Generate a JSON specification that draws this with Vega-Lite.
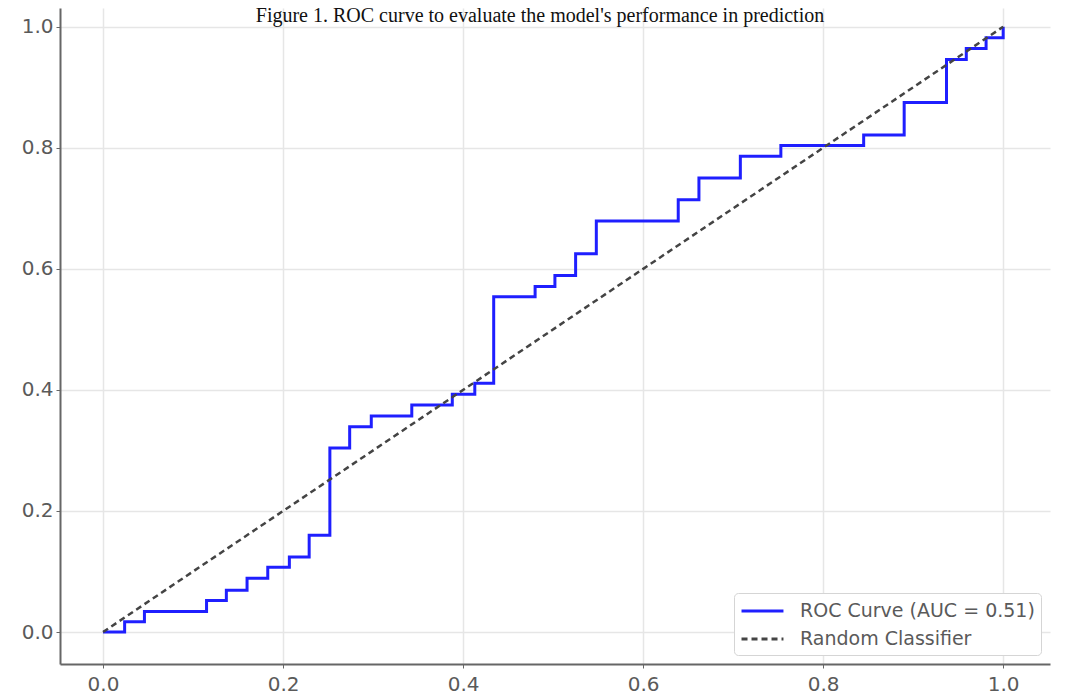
{
  "$schema": "https://vega.github.io/schema/vega-lite/v6.json",
  "autosize": {"type": "none"},
  "width": 990,
  "height": 656,
  "padding": {"left": 60, "top": 8, "right": 20, "bottom": 31},
  "background": "white",
  "title": {
    "text": "Figure 1. ROC curve to evaluate the model's performance in prediction",
    "font": "Liberation Serif",
    "fontSize": 20,
    "fontWeight": "normal",
    "color": "#111",
    "anchor": "middle",
    "baseline": "bottom",
    "offset": -38,
    "dx": -15
  },
  "config": {
    "view": {"stroke": null},
    "axis": {
      "labelFont": "DejaVu Sans",
      "labelFontSize": 20,
      "labelColor": "#5a5a5a",
      "domainColor": "#666",
      "domainWidth": 2,
      "tickColor": "#666",
      "tickSize": 4,
      "tickWidth": 1,
      "gridColor": "#e6e6e6",
      "gridWidth": 1.5,
      "title": null
    },
    "axisX": {"labelPadding": 6},
    "axisY": {"labelPadding": 3},
    "legend": {
      "labelFont": "DejaVu Sans",
      "labelFontSize": 19,
      "labelColor": "#5a5a5a",
      "labelLimit": 400,
      "fillColor": "white",
      "strokeColor": "#d5d5d5",
      "cornerRadius": 4,
      "padding": 6,
      "rowPadding": 6,
      "symbolType": "M-1,0L3,0",
      "symbolSize": 440,
      "symbolStrokeWidth": 3,
      "labelOffset": 36
    }
  },
  "layer": [
    {
      "data": {"values": [
        {"fpr": 0.0, "tpr": 0.0},
        {"fpr": 0.024, "tpr": 0.017},
        {"fpr": 0.046, "tpr": 0.034},
        {"fpr": 0.115, "tpr": 0.052},
        {"fpr": 0.137, "tpr": 0.069},
        {"fpr": 0.160, "tpr": 0.089},
        {"fpr": 0.183, "tpr": 0.107},
        {"fpr": 0.207, "tpr": 0.124},
        {"fpr": 0.229, "tpr": 0.160},
        {"fpr": 0.252, "tpr": 0.304},
        {"fpr": 0.274, "tpr": 0.339},
        {"fpr": 0.298, "tpr": 0.357},
        {"fpr": 0.343, "tpr": 0.375},
        {"fpr": 0.388, "tpr": 0.393},
        {"fpr": 0.413, "tpr": 0.411},
        {"fpr": 0.434, "tpr": 0.554},
        {"fpr": 0.480, "tpr": 0.571},
        {"fpr": 0.502, "tpr": 0.589},
        {"fpr": 0.525, "tpr": 0.625},
        {"fpr": 0.548, "tpr": 0.679},
        {"fpr": 0.639, "tpr": 0.714},
        {"fpr": 0.662, "tpr": 0.750},
        {"fpr": 0.708, "tpr": 0.786},
        {"fpr": 0.753, "tpr": 0.804},
        {"fpr": 0.845, "tpr": 0.821},
        {"fpr": 0.890, "tpr": 0.875},
        {"fpr": 0.937, "tpr": 0.946},
        {"fpr": 0.959, "tpr": 0.964},
        {"fpr": 0.981, "tpr": 0.982},
        {"fpr": 1.0, "tpr": 1.0}
      ]},
      "transform": [{"calculate": "'ROC Curve (AUC = 0.51)'", "as": "series"}],
      "mark": {"type": "line", "interpolate": "step-after", "strokeWidth": 3},
      "encoding": {
        "x": {"field": "fpr", "type": "quantitative", "scale": {"domain": [-0.0478, 1.052], "nice": false, "zero": false},
              "axis": {"values": [0, 0.2, 0.4, 0.6, 0.8, 1.0], "format": ".1f"}},
        "y": {"field": "tpr", "type": "quantitative", "scale": {"domain": [-0.0528, 1.031], "nice": false, "zero": false},
              "axis": {"values": [0, 0.2, 0.4, 0.6, 0.8, 1.0], "format": ".1f"}},
        "color": {"field": "series", "type": "nominal",
                  "scale": {"domain": ["ROC Curve (AUC = 0.51)", "Random Classifier"], "range": ["#1f1fff", "#444444"]},
                  "legend": {"title": null, "orient": "none", "legendX": 674, "legendY": 585}},
        "strokeDash": {"field": "series", "type": "nominal",
                  "scale": {"domain": ["ROC Curve (AUC = 0.51)", "Random Classifier"], "range": [[1, 0], [6, 4]]},
                  "legend": {"title": null, "orient": "none", "legendX": 674, "legendY": 585}}
      }
    },
    {
      "data": {"values": [
        {"fpr": 0.0, "tpr": 0.0},
        {"fpr": 1.0, "tpr": 1.0}
      ]},
      "transform": [{"calculate": "'Random Classifier'", "as": "series"}],
      "mark": {"type": "line", "strokeWidth": 2.5},
      "encoding": {
        "x": {"field": "fpr", "type": "quantitative"},
        "y": {"field": "tpr", "type": "quantitative"},
        "color": {"field": "series", "type": "nominal"},
        "strokeDash": {"field": "series", "type": "nominal"}
      }
    }
  ]
}
